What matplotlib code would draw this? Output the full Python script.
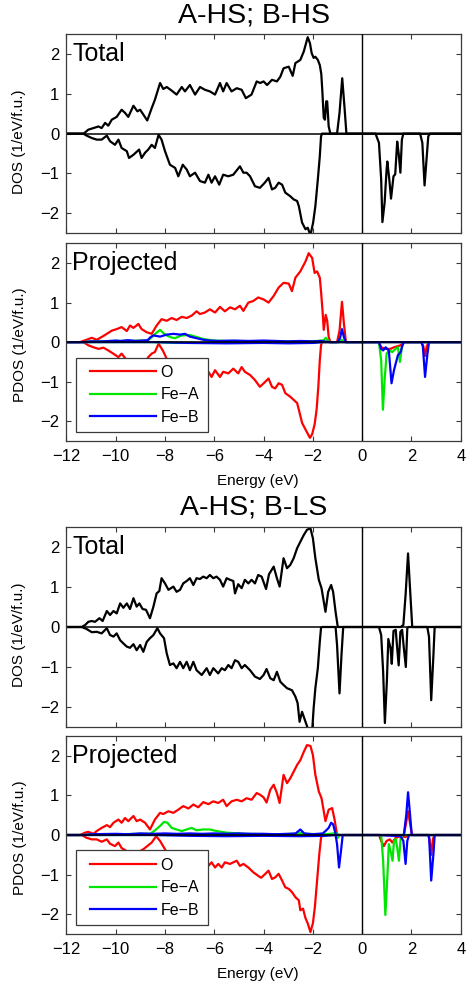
import numpy as np
import matplotlib
matplotlib.use('Agg')
import matplotlib.pyplot as plt
from matplotlib.patches import Rectangle

plt.rcParams['font.family'] = ['Liberation Sans', 'DejaVu Sans']

titles = ['A-HS; B-HS', 'A-HS; B-LS']
species = ['O', 'Fe\u2212A', 'Fe\u2212B']
x_ticks = [-12, -10, -8, -6, -4, -2, 0, 2, 4]
y_ticks = [-2, -1, 0, 1, 2]

# ---------------- A-HS; B-HS ----------------
hs_total_up = [(-12, 0), (-11.3, 0), (-11.11, 0.1), (-10.9, 0.14), (-10.7, 0.18), (-10.57, 0.14), (-10.43, 0.27),
               (-10.3, 0.2), (-10.16, 0.35), (-9.96, 0.42), (-9.76, 0.6), (-9.62, 0.52), (-9.49, 0.42), (-9.28, 0.7),
               (-9.12, 0.56), (-9.01, 0.6), (-8.88, 0.48), (-8.72, 0.33), (-8.54, 0.64), (-8.41, 0.85), (-8.2, 1.27),
               (-8.07, 1.12), (-7.93, 1.17), (-7.73, 1.08), (-7.53, 0.98), (-7.32, 1.17), (-7.19, 1.06), (-6.99, 1.22),
               (-6.78, 0.98), (-6.58, 1.17), (-6.38, 1.1), (-6.18, 1.06), (-5.97, 0.98), (-5.77, 1.27), (-5.64, 1.06),
               (-5.5, 1.27), (-5.3, 1.06), (-5.09, 1.14), (-4.89, 1.1), (-4.72, 0.89), (-4.49, 0.98), (-4.28, 1.31),
               (-4.14, 1.27), (-4.0, 1.31), (-3.86, 1.22), (-3.66, 1.35), (-3.46, 1.31), (-3.32, 1.43), (-3.19, 1.64),
               (-2.98, 1.68), (-2.82, 1.45), (-2.71, 1.77), (-2.51, 1.85), (-2.37, 2.06), (-2.21, 2.42), (-2.12, 2.27),
               (-2.05, 2.02), (-1.97, 1.9), (-1.9, 1.93), (-1.8, 1.85), (-1.72, 1.72), (-1.66, 1.5), (-1.62, 1.1),
               (-1.56, 0.4), (-1.51, 0.35), (-1.46, 0.81), (-1.42, 0.81), (-1.36, 0.18), (-1.29, 0), (-1.02, 0),
               (-0.92, 0.52), (-0.81, 1.39), (-0.72, 0.68), (-0.64, 0), (4, 0)]
hs_total_dn = [(-12, 0), (-11.31, 0), (-11.18, -0.05), (-10.97, -0.11), (-10.77, -0.15), (-10.57, -0.15), (-10.36, -0.05),
               (-10.23, -0.19), (-10.03, -0.28), (-9.89, -0.15), (-9.76, -0.36), (-9.55, -0.44), (-9.46, -0.61),
               (-9.28, -0.53), (-9.05, -0.4), (-8.95, -0.61), (-8.81, -0.48), (-8.68, -0.4), (-8.54, -0.28),
               (-8.41, -0.36), (-8.26, -0.03), (-8.14, -0.15), (-8.0, -0.44), (-7.8, -0.78), (-7.59, -0.86),
               (-7.46, -1.07), (-7.28, -0.78), (-7.12, -0.9), (-6.99, -1.07), (-6.78, -0.98), (-6.58, -1.19),
               (-6.38, -1.23), (-6.24, -1.03), (-6.11, -1.23), (-5.97, -1.07), (-5.8, -1.28), (-5.64, -1.03),
               (-5.43, -1.07), (-5.23, -1.03), (-4.96, -0.82), (-4.82, -0.98), (-4.69, -0.98), (-4.55, -1.07),
               (-4.35, -1.32), (-4.15, -1.36), (-3.95, -1.23), (-3.8, -1.11), (-3.66, -1.4), (-3.53, -1.36),
               (-3.39, -1.23), (-3.25, -1.28), (-3.12, -1.48), (-2.92, -1.57), (-2.78, -1.65), (-2.64, -1.69),
               (-2.57, -1.82), (-2.44, -2.23), (-2.3, -2.4), (-2.21, -2.36), (-2.1, -2.55), (-1.99, -2.23),
               (-1.9, -1.82), (-1.8, -1.15), (-1.72, -0.57), (-1.67, -0.07), (-1.63, 0), (0.54, 0), (0.68, -0.23),
               (0.77, -1.15), (0.82, -2.22), (0.91, -1.73), (0.99, -0.9), (1.02, -0.7), (1.1, -1.15), (1.17, -1.63),
               (1.27, -1.07), (1.34, -1.02), (1.42, -0.2), (1.48, -0.5), (1.55, -0.98), (1.61, -0.15), (1.67, 0),
               (2.35, 0), (2.44, -0.23), (2.53, -1.3), (2.6, -0.73), (2.68, -0.07), (2.75, 0), (4, 0)]
hs_o_up = [(-12, 0), (-11.45, 0), (-11.18, 0.06), (-10.97, 0.11), (-10.77, 0.06), (-10.57, 0.13), (-10.36, 0.21),
           (-10.16, 0.29), (-9.96, 0.33), (-9.76, 0.38), (-9.55, 0.28), (-9.42, 0.42), (-9.28, 0.36), (-9.08, 0.46),
           (-8.95, 0.33), (-8.74, 0.25), (-8.54, 0.21), (-8.34, 0.42), (-8.14, 0.58), (-7.93, 0.54), (-7.73, 0.61),
           (-7.53, 0.56), (-7.32, 0.64), (-7.12, 0.61), (-6.92, 0.67), (-6.72, 0.78), (-6.58, 0.71), (-6.38, 0.75),
           (-6.18, 0.83), (-5.97, 0.75), (-5.77, 0.89), (-5.57, 0.78), (-5.36, 0.88), (-5.16, 0.83), (-4.96, 0.92),
           (-4.82, 0.79), (-4.62, 1.0), (-4.42, 1.04), (-4.22, 1.13), (-4.0, 1.08), (-3.8, 1.0), (-3.59, 1.17),
           (-3.39, 1.38), (-3.19, 1.5), (-2.98, 1.48), (-2.85, 1.29), (-2.71, 1.63), (-2.51, 1.79), (-2.3, 2.04),
           (-2.17, 2.25), (-2.03, 2.13), (-1.93, 1.75), (-1.83, 1.79), (-1.72, 1.63), (-1.66, 1.21), (-1.6, 0.71),
           (-1.56, 0.31), (-1.48, 0.69), (-1.42, 0.54), (-1.36, 0.13), (-1.29, 0), (-1.02, 0), (-0.92, 0.29),
           (-0.82, 1.02), (-0.74, 0.46), (-0.66, 0), (4, 0)]
hs_o_dn = [(-12, 0), (-11.31, 0), (-11.11, -0.08), (-10.9, -0.13), (-10.7, -0.17), (-10.5, -0.14), (-10.3, -0.21),
           (-10.1, -0.29), (-9.89, -0.38), (-9.76, -0.29), (-9.55, -0.46), (-9.42, -0.52), (-9.3, -0.55),
           (-9.1, -0.45), (-8.95, -0.6), (-8.8, -0.5), (-8.68, -0.38), (-8.54, -0.29), (-8.41, -0.25), (-8.26, -0.04),
           (-8.09, -0.21), (-7.96, -0.38), (-7.8, -0.6), (-7.6, -0.65), (-7.4, -0.8), (-7.2, -0.7), (-7.0, -0.82),
           (-6.8, -0.75), (-6.6, -0.88), (-6.4, -0.8), (-6.24, -0.75), (-6.11, -0.88), (-5.97, -0.71), (-5.77, -0.88),
           (-5.64, -0.75), (-5.43, -0.79), (-5.23, -0.67), (-5.03, -0.79), (-4.89, -0.63), (-4.76, -0.75),
           (-4.55, -0.83), (-4.35, -0.96), (-4.15, -1.13), (-3.93, -1.0), (-3.8, -0.92), (-3.66, -1.13),
           (-3.53, -1.17), (-3.39, -1.04), (-3.25, -1.08), (-3.12, -1.29), (-2.92, -1.38), (-2.78, -1.46),
           (-2.64, -1.54), (-2.57, -1.71), (-2.44, -2.04), (-2.3, -2.21), (-2.12, -2.42), (-2.03, -2.33),
           (-1.93, -2.08), (-1.85, -1.71), (-1.78, -1.13), (-1.72, -0.46), (-1.67, -0.08), (-1.63, 0), (0.68, 0),
           (0.77, -0.13), (0.95, -0.17), (1.15, -0.17), (1.29, -0.13), (1.56, -0.08), (1.69, 0), (2.4, 0),
           (2.48, -0.1), (2.55, -0.35), (2.62, -0.1), (2.71, 0), (4, 0)]
hs_fea_up = [(-12, 0), (-11.3, 0), (-11.0, 0.02), (-10.5, 0.02), (-10.0, 0.03), (-9.5, 0.03), (-9.0, 0.04),
             (-8.7, 0.04), (-8.55, 0.12), (-8.38, 0.22), (-8.2, 0.31), (-8.05, 0.22), (-7.93, 0.17), (-7.75, 0.12),
             (-7.6, 0.1), (-7.32, 0.17), (-6.99, 0.18), (-6.72, 0.13), (-6.45, 0.08), (-6.04, 0.04), (-5.5, 0.03),
             (-4.5, 0.02), (-3.5, 0.02), (-2.5, 0.02), (-1.8, 0.03), (-1.55, 0.05), (-1.48, 0.11), (-1.4, 0.05),
             (-1.3, 0), (-0.95, 0), (-0.82, 0.06), (-0.7, 0), (4, 0)]
hs_fea_dn = [(-12, 0), (-8.5, 0), (-7.5, -0.02), (-5, -0.02), (-2, -0.01), (-1.6, 0), (0.68, 0), (0.77, -0.46),
             (0.84, -1.71), (0.91, -0.96), (0.99, -0.29), (1.08, -0.21), (1.22, -0.25), (1.36, -0.17), (1.45, -0.13),
             (1.53, -0.5), (1.61, -0.13), (1.69, 0), (4, 0)]
hs_feb_up = [(-12, 0), (-11.3, 0), (-11.0, 0.02), (-10.5, 0.02), (-10.0, 0.04), (-9.8, 0.03), (-9.5, 0.05),
             (-9.2, 0.03), (-8.9, 0.04), (-8.7, 0.05), (-8.6, 0.12), (-8.47, 0.17), (-8.2, 0.14), (-7.93, 0.19),
             (-7.66, 0.21), (-7.39, 0.19), (-7.19, 0.21), (-6.99, 0.14), (-6.72, 0.1), (-6.45, 0.06), (-6.18, 0.04),
             (-5.8, 0.03), (-5.2, 0.04), (-4.6, 0.03), (-4.0, 0.04), (-3.5, 0.03), (-3.0, 0.02), (-2.5, 0.03),
             (-2.0, 0.02), (-1.7, 0.03), (-1.3, 0), (-1.0, 0), (-0.9, 0.1), (-0.82, 0.33), (-0.74, 0.12),
             (-0.66, 0), (4, 0)]
hs_feb_dn = [(-12, 0), (-8.5, 0), (-7, -0.02), (-5.5, -0.03), (-4, -0.02), (-3, -0.03), (-2, -0.02), (-1.6, 0),
             (0.68, 0), (0.77, -0.17), (0.85, -0.21), (0.95, -0.13), (1.08, -0.21), (1.19, -1.04), (1.29, -0.71),
             (1.36, -0.54), (1.45, -0.33), (1.56, -0.25), (1.63, -0.08), (1.69, 0), (2.4, 0), (2.46, -0.1),
             (2.55, -0.88), (2.64, -0.33), (2.71, 0), (4, 0)]

# ---------------- A-HS; B-LS ----------------
ls_total_up = [(-12, 0), (-11.38, 0), (-11.24, 0.05), (-11.11, 0.13), (-10.97, 0.15), (-10.84, 0.13), (-10.66, 0.22),
               (-10.53, 0.15), (-10.36, 0.4), (-10.23, 0.3), (-10.09, 0.4), (-9.96, 0.34), (-9.82, 0.59), (-9.69, 0.48),
               (-9.55, 0.59), (-9.42, 0.45), (-9.28, 0.72), (-9.15, 0.51), (-9.04, 0.59), (-8.91, 0.45), (-8.77, 0.43),
               (-8.61, 0.22), (-8.47, 0.51), (-8.34, 0.84), (-8.23, 0.9), (-8.14, 1.22), (-8.0, 1.09), (-7.86, 0.93),
               (-7.66, 1.01), (-7.53, 0.88), (-7.39, 0.93), (-7.26, 1.09), (-7.12, 1.15), (-6.99, 1.22), (-6.85, 1.05),
               (-6.72, 1.22), (-6.58, 1.2), (-6.45, 1.26), (-6.31, 1.22), (-6.18, 1.3), (-6.04, 1.22), (-5.91, 1.26),
               (-5.77, 1.18), (-5.64, 1.01), (-5.5, 1.22), (-5.36, 1.18), (-5.23, 1.15), (-5.16, 0.84), (-5.03, 1.07),
               (-4.89, 0.97), (-4.76, 1.18), (-4.62, 1.09), (-4.49, 1.18), (-4.35, 1.09), (-4.22, 1.3), (-4.08, 1.26),
               (-3.9, 0.95), (-3.78, 1.32), (-3.59, 1.51), (-3.46, 1.22), (-3.35, 1.01), (-3.19, 1.72), (-3.05, 1.47),
               (-2.92, 1.55), (-2.78, 1.72), (-2.64, 1.97), (-2.51, 2.13), (-2.37, 2.3), (-2.24, 2.43), (-2.1, 2.47),
               (-2.0, 2.22), (-1.9, 1.72), (-1.76, 1.18), (-1.65, 0.97), (-1.49, 0.38), (-1.38, 0.88), (-1.26, 1.05),
               (-1.18, 0.88), (-1.08, 0.38), (-0.99, 0), (1.56, 0), (1.67, 0.05), (1.76, 0.8), (1.86, 1.84),
               (1.94, 0.97), (2.03, 0), (4, 0)]
ls_total_dn = [(-12, 0), (-11.38, 0), (-11.18, -0.05), (-10.97, -0.13), (-10.77, -0.12), (-10.57, -0.16), (-10.36, -0.03),
               (-10.23, -0.2), (-10.09, -0.24), (-9.96, -0.16), (-9.82, -0.33), (-9.69, -0.41), (-9.55, -0.49),
               (-9.42, -0.52), (-9.28, -0.43), (-9.15, -0.58), (-9.01, -0.45), (-8.88, -0.62), (-8.74, -0.37),
               (-8.61, -0.28), (-8.47, -0.2), (-8.31, -0.03), (-8.2, -0.16), (-8.04, -0.28), (-7.93, -0.66),
               (-7.8, -0.95), (-7.66, -0.91), (-7.53, -1.03), (-7.39, -0.87), (-7.26, -1.03), (-7.12, -0.87),
               (-6.99, -1.08), (-6.85, -0.87), (-6.72, -1.08), (-6.51, -1.2), (-6.31, -1.03), (-6.18, -1.2),
               (-6.04, -1.03), (-5.84, -1.16), (-5.7, -1.03), (-5.57, -1.08), (-5.43, -0.95), (-5.3, -1.03),
               (-5.16, -0.83), (-5.03, -0.87), (-4.89, -1.03), (-4.76, -0.95), (-4.55, -1.08), (-4.35, -1.24),
               (-4.15, -1.3), (-4.0, -1.2), (-3.88, -1.05), (-3.73, -1.28), (-3.59, -1.33), (-3.46, -1.12),
               (-3.32, -1.37), (-3.19, -1.45), (-3.05, -1.53), (-2.85, -1.58), (-2.71, -1.74), (-2.62, -1.9),
               (-2.54, -2.37), (-2.44, -2.12), (-2.3, -2.37), (-2.17, -2.6), (-2.03, -2.6), (-1.97, -2.03),
               (-1.9, -1.53), (-1.8, -1.03), (-1.72, -0.37), (-1.67, -0.02), (-1.63, 0), (-1.08, 0), (-1.02, -0.45),
               (-0.92, -1.66), (-0.84, -0.7), (-0.77, 0), (0.68, 0), (0.77, -0.2), (0.85, -1.12), (0.92, -2.4),
               (1.0, -1.37), (1.06, -0.3), (1.15, -0.53), (1.2, -0.92), (1.27, -0.1), (1.36, -0.07), (1.42, -0.53),
               (1.48, -0.96), (1.55, -0.12), (1.62, -0.07), (1.69, -0.53), (1.77, -1.0), (1.83, -0.03), (1.88, 0),
               (2.64, 0), (2.71, -0.24), (2.8, -1.83), (2.89, -0.7), (2.94, 0), (4, 0)]
ls_o_up = [(-12, 0), (-11.45, 0), (-11.24, 0.06), (-11.11, 0.08), (-10.9, 0.03), (-10.77, 0.1), (-10.57, 0.18),
           (-10.36, 0.25), (-10.23, 0.2), (-10.09, 0.31), (-9.89, 0.39), (-9.76, 0.31), (-9.62, 0.43), (-9.49, 0.35),
           (-9.28, 0.48), (-9.15, 0.35), (-9.01, 0.39), (-8.81, 0.31), (-8.61, 0.14), (-8.41, 0.39), (-8.2, 0.56),
           (-8.07, 0.53), (-7.86, 0.6), (-7.66, 0.56), (-7.46, 0.64), (-7.26, 0.73), (-7.05, 0.67), (-6.85, 0.77),
           (-6.65, 0.7), (-6.45, 0.83), (-6.24, 0.78), (-6.04, 0.85), (-5.84, 0.81), (-5.64, 0.89), (-5.5, 0.73),
           (-5.3, 0.85), (-5.09, 0.89), (-4.89, 0.85), (-4.69, 0.93), (-4.49, 0.89), (-4.28, 1.06), (-4.15, 1.02),
           (-4.0, 0.95), (-3.88, 0.82), (-3.73, 1.14), (-3.59, 1.27), (-3.46, 1.06), (-3.35, 0.81), (-3.19, 1.52),
           (-3.05, 1.31), (-2.92, 1.43), (-2.78, 1.6), (-2.64, 1.77), (-2.51, 1.89), (-2.37, 2.1), (-2.24, 2.27),
           (-2.1, 2.25), (-2.0, 2.02), (-1.9, 1.52), (-1.76, 1.1), (-1.65, 0.93), (-1.49, 0.35), (-1.36, 0.64),
           (-1.22, 0.68), (-1.12, 0.39), (-1.02, 0), (1.69, 0), (1.78, 0.3), (1.86, 0.6), (1.94, 0.3), (2.02, 0),
           (4, 0)]
ls_o_dn = [(-12, 0), (-11.38, 0), (-11.18, -0.07), (-10.97, -0.11), (-10.77, -0.11), (-10.57, -0.17), (-10.36, -0.11),
           (-10.23, -0.22), (-10.03, -0.28), (-9.89, -0.19), (-9.76, -0.33), (-9.62, -0.38), (-9.45, -0.45),
           (-9.25, -0.5), (-9.05, -0.42), (-8.88, -0.36), (-8.72, -0.28), (-8.54, -0.19), (-8.36, -0.03),
           (-8.2, -0.15), (-8.0, -0.36), (-7.8, -0.6), (-7.6, -0.7), (-7.4, -0.65), (-7.2, -0.78), (-7.0, -0.7),
           (-6.8, -0.8), (-6.6, -0.72), (-6.4, -0.8), (-6.24, -0.78), (-6.11, -0.69), (-5.97, -0.82), (-5.84, -0.73),
           (-5.7, -0.82), (-5.57, -0.69), (-5.36, -0.73), (-5.23, -0.69), (-5.09, -0.65), (-4.96, -0.78),
           (-4.82, -0.73), (-4.62, -0.82), (-4.42, -0.94), (-4.22, -1.03), (-4.1, -1.08), (-3.93, -0.98),
           (-3.8, -0.9), (-3.66, -1.11), (-3.53, -1.07), (-3.39, -0.98), (-3.25, -1.15), (-3.12, -1.32),
           (-2.98, -1.36), (-2.85, -1.44), (-2.71, -1.57), (-2.57, -1.65), (-2.51, -1.9), (-2.4, -1.86),
           (-2.3, -2.1), (-2.21, -2.23), (-2.1, -2.45), (-2.0, -2.23), (-1.92, -1.82), (-1.83, -1.15),
           (-1.74, -0.48), (-1.67, -0.07), (-1.62, 0), (0.68, 0), (0.77, -0.15), (0.88, -0.28), (0.99, -0.15),
           (1.12, -0.11), (1.22, -0.19), (1.36, -0.07), (1.56, -0.03), (1.76, -0.05), (1.9, 0), (2.66, 0),
           (2.73, -0.1), (2.8, -0.5), (2.87, -0.1), (2.94, 0), (4, 0)]
ls_fea_up = [(-12, 0), (-11.3, 0), (-11, 0.02), (-10, 0.02), (-9, 0.03), (-8.6, 0.03), (-8.4, 0.12), (-8.2, 0.23),
             (-8.04, 0.33), (-7.9, 0.31), (-7.73, 0.18), (-7.53, 0.14), (-7.32, 0.1), (-7.12, 0.14), (-6.92, 0.18),
             (-6.72, 0.12), (-6.45, 0.14), (-6.18, 0.14), (-5.91, 0.1), (-5.5, 0.06), (-4.8, 0.03), (-3.5, 0.02),
             (-2.6, 0.03), (-2.5, 0.06), (-2.4, 0.03), (-1.6, 0.02), (-1.3, 0.03), (-1.05, 0.05), (-0.95, 0), (4, 0)]
ls_fea_dn = [(-12, 0), (-1.1, 0), (-1.0, -0.08), (-0.92, 0), (0.77, 0), (0.85, -0.65), (0.94, -2.02), (1.02, -1.07),
             (1.08, -0.23), (1.15, -0.4), (1.23, -0.65), (1.29, -0.15), (1.36, -0.1), (1.42, -0.32), (1.49, -0.65),
             (1.56, -0.07), (1.63, 0), (4, 0)]
ls_feb_up = [(-12, 0), (-11.3, 0), (-11, 0.02), (-10, 0.03), (-9.5, 0.02), (-9, 0.04), (-8.5, 0.03), (-8, 0.04),
             (-7.5, 0.03), (-7, 0.04), (-6.5, 0.03), (-6, 0.04), (-5.5, 0.03), (-5, 0.04), (-4.5, 0.03), (-4, 0.03),
             (-3.5, 0.02), (-3, 0.03), (-2.7, 0.04), (-2.51, 0.14), (-2.35, 0.04), (-2.0, 0.02), (-1.6, 0.04),
             (-1.49, 0.1), (-1.36, 0.18), (-1.26, 0.31), (-1.18, 0.27), (-1.08, 0.03), (-1.02, 0), (1.69, 0),
             (1.79, 0.52), (1.86, 1.08), (1.93, 0.6), (2.01, 0), (4, 0)]
ls_feb_dn = [(-12, 0), (-8.5, 0), (-7, -0.02), (-5.5, -0.03), (-4, -0.02), (-2.5, -0.03), (-1.5, -0.02), (-1.08, 0),
             (-1.02, -0.23), (-0.94, -0.82), (-0.86, -0.4), (-0.79, 0), (0.68, 0), (1.56, -0.03), (1.67, -0.15),
             (1.76, -0.73), (1.83, -0.15), (1.9, 0), (2.71, 0), (2.8, -1.15), (2.89, -0.48), (2.94, 0), (4, 0)]

configs = [
    dict(title=titles[0], total=(hs_total_up, hs_total_dn),
         parts=[(hs_o_up, hs_o_dn), (hs_fea_up, hs_fea_dn), (hs_feb_up, hs_feb_dn)]),
    dict(title=titles[1], total=(ls_total_up, ls_total_dn),
         parts=[(ls_o_up, ls_o_dn), (ls_fea_up, ls_fea_dn), (ls_feb_up, ls_feb_dn)]),
]

colors = ['#ff0000', '#00e600', '#0000ff']
spine_c = '#3a3a3a'
LW = 1.6
TICK_FS = 12
LAB_FS = 11


def xy(pairs):
    a = np.asarray(pairs, dtype=float)
    return a[:, 0], a[:, 1]


def style(ax, bottom_labels):
    ax.set_xlim(-12, 4)
    ax.set_ylim(-2.5, 2.5)
    ax.set_xticks(x_ticks)
    ax.set_yticks(y_ticks)
    ax.set_yticklabels(['\u22122', '\u22121', '0', '1', '2'])
    if bottom_labels:
        ax.set_xticklabels(['\u221212', '\u221210', '\u22128', '\u22126', '\u22124', '\u22122', '0', '2', '4'])
    else:
        ax.set_xticklabels([])
    ax.tick_params(direction='in', top=True, right=True, length=3.5, width=0.8,
                   color=spine_c, labelsize=TICK_FS, pad=5)
    ax.tick_params(axis='x', pad=6)
    for s in ax.spines.values():
        s.set_color(spine_c)
        s.set_linewidth(0.9)
    ax.axvline(0, color='black', lw=1.0, zorder=3)


fig = plt.figure(figsize=(4.67, 9.91), dpi=100)
L, W = 0.1422, 0.8445
rects = [(0.7646, 0.2011), (0.5550, 0.1995), (0.2664, 0.2018), (0.0575, 0.1998)]
title_y = [1 - 16 / 991, 1 - 507.5 / 991]

for i, cfg in enumerate(configs):
    b1, h1 = rects[2 * i]
    b2, h2 = rects[2 * i + 1]
    ax_t = fig.add_axes([L, b1, W, h1])
    ax_p = fig.add_axes([L, b2, W, h2])

    fig.text(0.543, title_y[i], cfg['title'], ha='center', va='center', fontsize=20.5)

    # total DOS
    for pairs in cfg['total']:
        e, v = xy(pairs)
        ax_t.plot(e, v, color='black', lw=LW, zorder=2)
    ax_t.axhline(0, color='black', lw=1.1, zorder=2.5)
    style(ax_t, False)
    ax_t.set_ylabel('DOS (1/eV/f.u.)', fontsize=LAB_FS)
    ax_t.yaxis.set_label_coords(-0.102, 0.46)
    ax_t.text(0.016, 0.96, 'Total', transform=ax_t.transAxes, ha='left', va='top', fontsize=18)

    # projected DOS
    handles = []
    for (up, dn), c, name in zip(cfg['parts'], colors, species):
        e, v = xy(up)
        ln, = ax_p.plot(e, v, color=c, lw=LW, zorder=2, label=name)
        e, v = xy(dn)
        ax_p.plot(e, v, color=c, lw=LW, zorder=2)
        handles.append(ln)
    ax_p.axhline(0, color='black', lw=1.1, zorder=2.5)
    style(ax_p, True)
    ax_p.set_ylabel('PDOS (1/eV/f.u.)', fontsize=LAB_FS)
    ax_p.yaxis.set_label_coords(-0.099, 0.485)
    ax_p.set_xlabel('Energy (eV)', fontsize=LAB_FS)
    ax_p.xaxis.set_label_coords(0.486, -0.165)
    ax_p.text(0.014, 0.96, 'Projected', transform=ax_p.transAxes, ha='left', va='top', fontsize=18)

    box = Rectangle((0.024, 0.046), 0.336, 0.376, transform=ax_p.transAxes, facecolor='white',
                    edgecolor=spine_c, lw=0.9, zorder=4)
    ax_p.add_patch(box)
    leg = ax_p.legend(handles=handles, loc='upper left', bbox_to_anchor=(0.06, 0.386), borderaxespad=0,
                      borderpad=0, frameon=False, fontsize=11.5, handlelength=4.1, handletextpad=0.3,
                      labelspacing=0.48)
    leg.set_zorder(5)

fig.savefig('out.png', dpi=100)
